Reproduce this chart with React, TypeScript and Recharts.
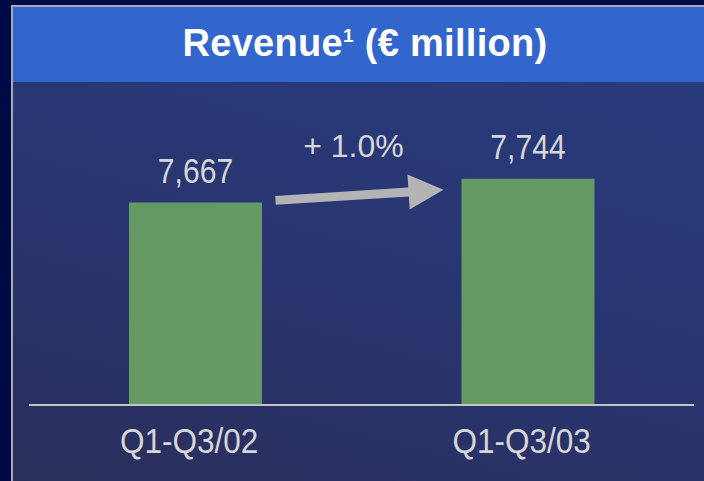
import React from "react";
import { BarChart, Bar, XAxis, YAxis, LabelList } from "recharts";

const categories = ["Q1-Q3/02", "Q1-Q3/03"];
const revenue = [7667, 7744];
const titleText = "Revenue";
const titleSup = "1";
const titleRest = " (€ million)";

const data = categories.map((c, i) => ({ name: c, value: revenue[i] }));
const growth = ((revenue[1] / revenue[0] - 1) * 100).toFixed(1);

const FONT = '"Liberation Sans", Arial, sans-serif';
const TEXT = "#d6d6d6";
const NARROW = 0.86;

const fmt = (v: number) => v.toLocaleString("en-US");

const ValueLabel = (props: any) => {
  const { x, y, width, value, index } = props;
  const cx = x + width / 2;
  const items: any[] = [
    <text
      key="v"
      x={0}
      y={0}
      transform={`translate(${cx},${y - 20}) scale(${NARROW},1)`}
      textAnchor="middle"
      fill={TEXT}
      fontSize={35}
      fontFamily={FONT}
    >
      {fmt(value)}
    </text>,
  ];
  if (index === 1) {
    const sx = x - 186, sy = y + 21.5;
    const tx = x - 18, ty = y + 11;
    const dx = tx - sx, dy = ty - sy;
    const len = Math.sqrt(dx * dx + dy * dy);
    const ux = dx / len, uy = dy / len;
    const px = -uy, py = ux;
    const headLen = 35, headHalf = 17.5, shaftHalf = 4.5;
    const bx = tx - ux * headLen, by = ty - uy * headLen;
    const pts = [
      [sx + px * shaftHalf, sy + py * shaftHalf],
      [bx + px * shaftHalf, by + py * shaftHalf],
      [bx + px * headHalf, by + py * headHalf],
      [tx, ty],
      [bx - px * headHalf, by - py * headHalf],
      [bx - px * shaftHalf, by - py * shaftHalf],
      [sx - px * shaftHalf, sy - py * shaftHalf],
    ]
      .map((p) => p.join(","))
      .join(" ");
    items.push(<polygon key="a" points={pts} fill="#b4b4b4" />);
    items.push(
      <text key="p" x={x - 108} y={y - 22} textAnchor="middle" fill={TEXT} fontSize={32} fontFamily={FONT}>
        {"+ " + growth + "%"}
      </text>
    );
  }
  return <g>{items}</g>;
};

const Tick = (props: any) => {
  const { x, y, payload } = props;
  return (
    <text
      x={0}
      y={0}
      transform={`translate(${x - 6},${y + 48}) scale(0.875,1)`}
      textAnchor="middle"
      fill={TEXT}
      fontSize={36}
      fontFamily={FONT}
    >
      {payload.value}
    </text>
  );
};

export default function App() {
  return (
    <div
      style={{
        position: "absolute",
        left: 0,
        top: 0,
        width: 704,
        height: 481,
        overflow: "hidden",
        background: "#000b45",
      }}
    >
      <div
        style={{
          position: "absolute",
          left: 11,
          top: 5,
          width: 704,
          height: 481,
          background: "#a9a9b4",
        }}
      />
      <div
        style={{
          position: "absolute",
          left: 13,
          top: 82,
          width: 700,
          height: 400,
          background: "linear-gradient(15deg, #2a2e5a 0%, #29346e 45%, #283b7c 100%)",
        }}
      />
      <div
        style={{
          position: "absolute",
          left: 13,
          top: 7,
          width: 700,
          height: 75,
          background: "#3366cc",
        }}
      />
      <div
        style={{
          position: "absolute",
          left: 0,
          top: 6,
          width: 730,
          height: 75,
          display: "flex",
          alignItems: "center",
          justifyContent: "center",
          color: "#ffffff",
          fontFamily: FONT,
          fontWeight: "bold",
          fontSize: 38,
          letterSpacing: 0.3,
          whiteSpace: "nowrap",
        }}
      >
        <span>
          {titleText}
          <sup style={{ fontSize: 19, verticalAlign: "top", position: "relative", top: 3 }}>{titleSup}</sup>
          {titleRest}
        </span>
      </div>
      <div style={{ position: "absolute", left: 0, top: 0 }}>
        <BarChart
          width={704}
          height={481}
          data={data}
          margin={{ top: 100, right: 10, bottom: 0, left: 29 }}
        >
          <XAxis
            dataKey="name"
            height={76}
            axisLine={{ stroke: "#c4c4c4", strokeWidth: 2 }}
            tickLine={false}
            tickSize={0}
            tickMargin={0}
            tick={<Tick />}
          />
          <YAxis hide domain={[7010, 8000]} allowDataOverflow />
          <Bar dataKey="value" fill="#659a64" barSize={133} isAnimationActive={false}>
            <LabelList dataKey="value" content={<ValueLabel />} />
          </Bar>
        </BarChart>
      </div>
    </div>
  );
}
